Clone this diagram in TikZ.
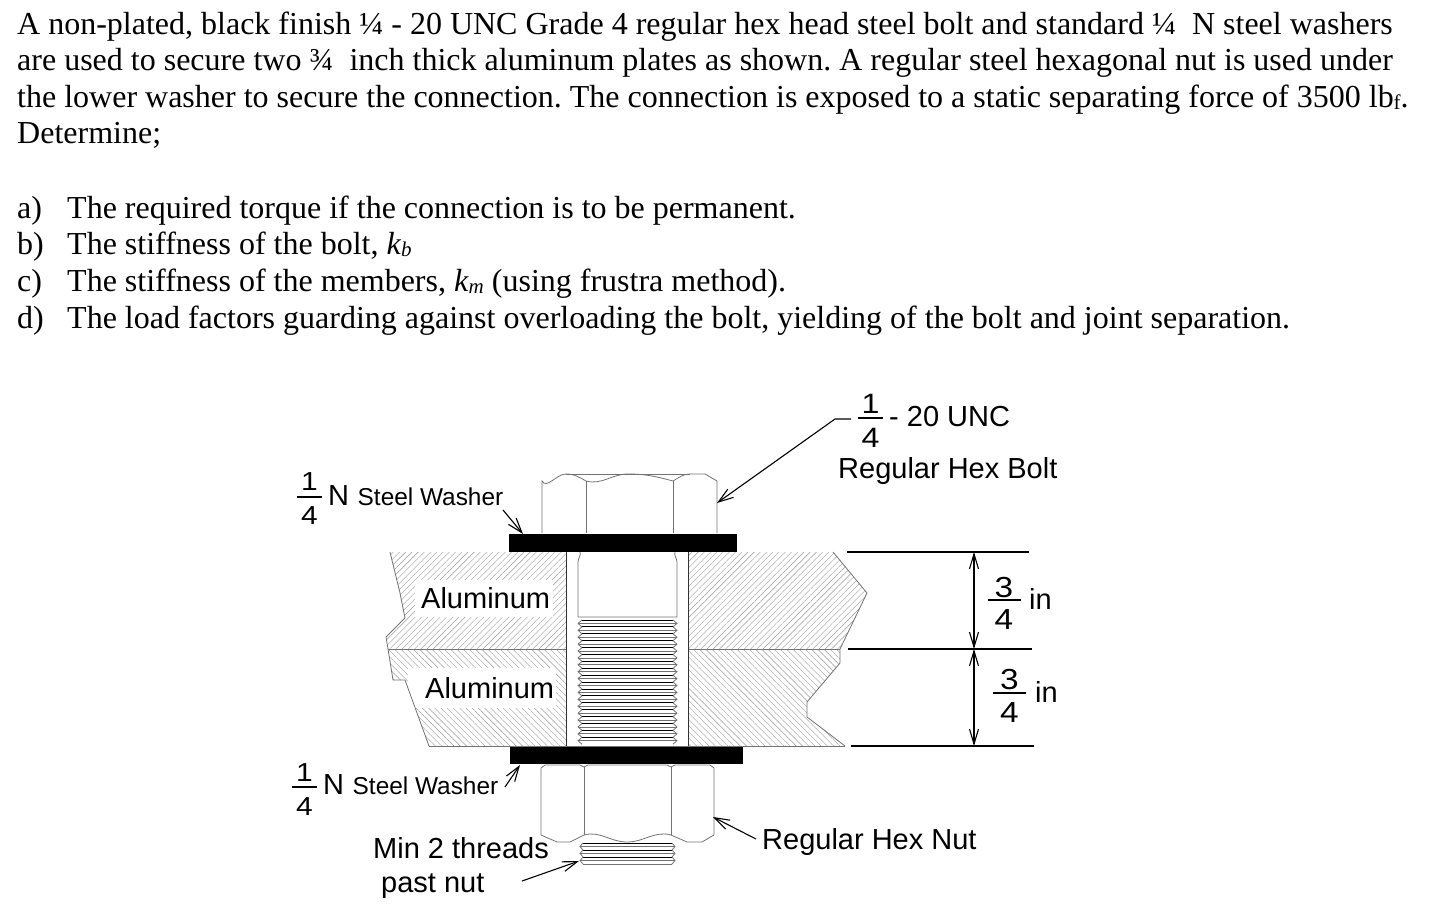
\documentclass[tikz,border=0pt]{standalone}
\usepackage{fontspec}
\setmainfont{Liberation Serif}
\newfontfamily\labelfont{Liberation Sans}
\usetikzlibrary{arrows.meta, patterns.meta}

\newcommand{\lowsub}[1]{\raisebox{-2pt}{\fontsize{21}{21}\selectfont #1}}

\tikzset{
    textline/.style={anchor=base west, inner sep=0pt, font=\frenchspacing\fontsize{32}{36}\selectfont},
    biglabel/.style={anchor=base west, inner sep=0pt, font=\labelfont\fontsize{29}{32}\selectfont},
    smalllabel/.style={anchor=base west, inner sep=0pt, font=\labelfont\fontsize{24.4}{28}\selectfont},
    digitlabel/.style={anchor=base, inner sep=0pt, xscale=1.15},
    fracrule/.style={line width=1.2pt},
    washerbar/.style={fill=black, inner sep=0pt, anchor=north west},
    leader/.style={line width=1.1pt, -{Straight Barb[length=15pt,width=10pt]}},
    dimline/.style={line width=1.1pt, {Straight Barb[length=15pt,width=9pt]}-{Straight Barb[length=15pt,width=9pt]}},
    extline/.style={line width=1.2pt},
    partline/.style={line width=0.8pt, black!55},
    hatchup/.style={pattern={Lines[angle=45,distance=4.4pt,line width=0.4pt]}, pattern color=black!40},
    hatchdown/.style={pattern={Lines[angle=-45,distance=4.4pt,line width=0.4pt]}, pattern color=black!40},
}

\begin{document}
\begin{tikzpicture}[x=1pt, y=-1pt]
\useasboundingbox (0,0) rectangle (1430,908);

% Problem statement
\node[textline] (lineA) at (17,34) {A non-plated, black finish ¼ - 20 UNC Grade 4 regular hex head steel bolt and standard ¼~~N steel washers};
\node[textline] (lineB) at (17,70) {are used to secure two ¾~~inch thick aluminum plates as shown. A regular steel hexagonal nut is used under};
\node[textline] (lineC) at (17,107) {the lower washer to secure the connection. The connection is exposed to a static separating force of 3500 lb\lowsub{f}.};
\node[textline] (lineD) at (17,143) {Determine;};
\foreach \tag/\y/\body in {
    a)/218/{The required torque if the connection is to be permanent.},
    b)/254/{The stiffness of the bolt, \textit{k}\lowsub{\itshape b}},
    c)/291/{The stiffness of the members, \textit{k}\lowsub{\itshape m} (using frustra method).},
    d)/328/{The load factors guarding against overloading the bolt, yielding of the bolt and joint separation.}
} {
    \node[textline] at (17,\y) {\tag};
    \node[textline] at (67,\y) {\body};
}

% Plates
\path[hatchup] (390,552) -- (400,593) -- (405,618) -- (386,637) -- (388,649) -- (566,649) -- (566,552) -- cycle;
\path[hatchup] (688,552) -- (833,552) -- (867,593) -- (840,649) -- (688,649) -- cycle;
\path[hatchdown] (388,649) -- (393,680) -- (405,680) -- (429,746) -- (566,746) -- (566,649) -- cycle;
\path[hatchdown] (688,649) -- (840,649) -- (840,663) -- (807,702) -- (807,717) -- (845,746) -- (688,746) -- cycle;
\fill[white] (415,580) rectangle (553,617);
\fill[white] (408,668) rectangle (556,708);
\draw[partline] (390,552) -- (400,593) -- (405,618) -- (386,637) -- (388,649) -- (393,680) -- (405,680) -- (429,746);
\draw[partline] (833,552) -- (867,593) -- (840,649) -- (840,663) -- (807,702) -- (807,717) -- (845,746);
\draw[partline] (388,649) -- (566,649) (688,649) -- (840,649);
\draw[partline] (429,746) -- (845,746);
\draw[line width=1pt, black!80] (566,552) -- (566,746) (688,552) -- (688,746);

% Bolt shank and threads
\draw[partline] (580,552) to[out=-70,in=90] (578,562) -- (578,617) -- (677,617) -- (677,562) to[out=90,in=-110] (675,552);
\foreach \y in {620,626.9,...,742} {
    \draw[partline] (578,\y+3.4) -- (677,\y+3.4);
    \draw[line width=0.9pt] (582,\y) -- (673,\y);
    \draw[partline] (582,\y) -- (578,\y+3.4) -- (582,\y+6.9);
    \draw[partline] (673,\y) -- (677,\y+3.4) -- (673,\y+6.9);
}
\foreach \y in {843,850,857} {
    \draw[line width=0.9pt] (583,\y) -- (672,\y);
    \draw[partline] (583,\y) -- (580,\y+3.5) -- (583,\y+7) (672,\y) -- (675,\y+3.5) -- (672,\y+7);
    \draw[partline] (580,\y+3.5) -- (675,\y+3.5);
}
\draw[partline] (583,864) -- (672,864);

% Bolt head
\draw[partline] (542,533) -- (542,481) to[out=-60,in=180] (566,474) to[out=0,in=150] (586,481)
    to[out=-15,in=180] (628,474) to[out=0,in=165] (673,481) to[out=30,in=180] (690,474) -- (705,474) -- (717,481) -- (717,533);
\draw[partline] (566,474) -- (690,474);
\draw[partline] (586,481) -- (586,533) (673,481) -- (673,533);

% Nut
\draw[partline] (541,768) -- (545,765) -- (580,765) -- (584,767) -- (588,765) -- (667,765) -- (671,767) -- (675,765) -- (710,765) -- (714,768)
    -- (714,835) -- (702,842) -- (687,842) -- (671,835) to[out=165,in=0] (627,842) to[out=180,in=15] (584,835) -- (570,842) -- (557,842) -- (541,835) -- cycle;
\draw[partline] (584,767) -- (584,835) (671,767) -- (671,835);

% Washers
\node[washerbar, minimum width=228pt, minimum height=18pt] (washerTop) at (509,534) {};
\node[washerbar, minimum width=233pt, minimum height=17pt] (washerLow) at (510,747) {};

% Labels
\node[biglabel] (alumTop) at (421,608) {Aluminum};
\node[biglabel] (alumLow) at (425,698) {Aluminum};
\node[biglabel] (uncLabel) at (889,426) {- 20 UNC};
\node[biglabel] (boltLabel) at (838,478) {Regular Hex Bolt};
\node[biglabel] (nTop) at (328,505) {N};
\node[smalllabel] (washerTopLabel) at (357.5,505) {Steel Washer};
\node[biglabel] (nLow) at (323,794) {N};
\node[smalllabel] (washerLowLabel) at (352.5,794) {Steel Washer};
\node[biglabel] (threadLabel) at (373,858) {Min 2 threads};
\node[biglabel] (pastLabel) at (381,892) {past nut};
\node[biglabel] (nutLabel) at (762,849) {Regular Hex Nut};
\node[biglabel] (inA) at (1029,609) {in};
\node[biglabel] (inB) at (1035,702) {in};

% Fractions
\foreach \name/\x/\rulepos/\half/\numbase/\denbase/\numr/\denr/\fs in {
    fracBolt/870.5/418/12.5/413/447/1/4/28,
    fracTop/309.5/497/12.5/490/524/1/4/26,
    fracLow/304.5/787/12.5/781/815/1/4/26,
    fracDimA/1004/600/16.5/597/629/3/4/29,
    fracDimB/1009.5/693/16.5/689/722/3/4/29
} {
    \node[digitlabel, font=\labelfont\fontsize{\fs}{\fs}\selectfont] (\name Num) at (\x,\numbase) {\numr};
    \node[digitlabel, font=\labelfont\fontsize{\fs}{\fs}\selectfont] (\name Den) at (\x,\denbase) {\denr};
    \draw[fracrule] (\x-\half,\rulepos) -- (\x+\half,\rulepos);
}

% Connector ends
\foreach \name/\x/\y in {
    boltKnee/835/419, boltTail/851/419, boltTip/717/503,
    washerTopTail/503/510, washerTopTip/523/534,
    washerLowTail/505/787, washerLowTip/520/765,
    nutTail/756/839, nutTip/713/817,
    threadTail/522/881, threadTip/579/861,
    dimTopL/847/552, dimTopR/1029/552,
    dimMidL/848/649, dimMidR/1032/649,
    dimLowL/851/746, dimLowR/1034/746,
    dimTop/974/552, dimMid/974/649, dimLow/974/746
} {
    \coordinate (\name) at (\x,\y);
}
\draw[leader] (boltTail) -- (boltKnee) -- (boltTip);
\draw[leader] (washerTopTail) -- (washerTopTip);
\draw[leader] (washerLowTail) -- (washerLowTip);
\draw[leader] (nutTail) -- (nutTip);
\draw[leader] (threadTail) -- (threadTip);

% Dimensions
\draw[extline] (dimTopL) -- (dimTopR);
\draw[extline] (dimMidL) -- (dimMidR);
\draw[extline] (dimLowL) -- (dimLowR);
\draw[dimline] (dimTop) -- (dimMid);
\draw[dimline] (dimMid) -- (dimLow);
\end{tikzpicture}
\end{document}
